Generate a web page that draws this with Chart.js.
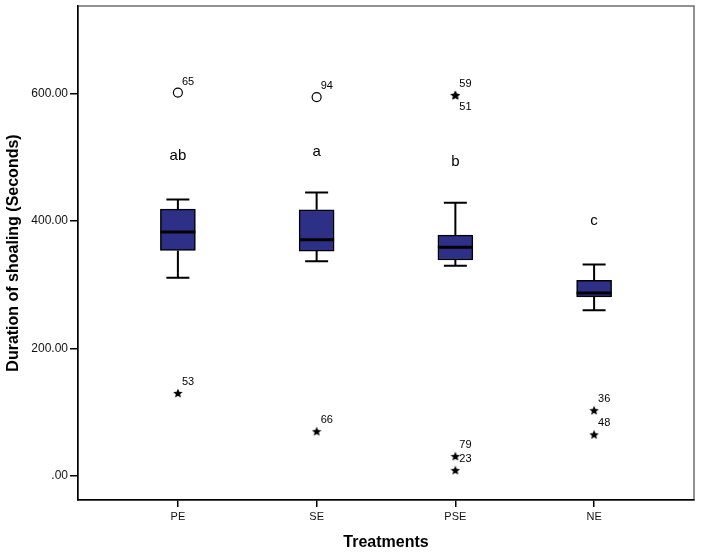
<!DOCTYPE html>
<html>
<head>
<meta charset="utf-8">
<script src="https://cdn.jsdelivr.net/npm/chart.js@4.4.1/dist/chart.umd.min.js"></script>
<style>
    html, body { margin: 0; padding: 0; background: #fff; }
    #wrap { width: 702px; height: 555px; }
</style>
</head>
<body>
<div id="wrap"><canvas id="boxChart"></canvas></div>
<script>
// Data
const categories = ['PE', 'SE', 'PSE', 'NE'];
const whiskerLow = [311, 337, 330, 260];
const q1 = [354, 353, 339, 281];
const median = [383, 371, 359, 287];
const q3 = [419, 418, 378, 307];
const whiskerHigh = [434, 445, 429, 332];
const sigLetters = ['ab', 'a', 'b', 'c'];
const sigLevel = [503, 509, 493, 400];

// outliers: group index, value, case id, marker
const outGroup = [0, 0, 1, 1, 2, 2, 2, 2, 3, 3];
const outValue = [602, 130, 595, 70, 598, 598, 31, 9, 103, 65];
const outId = ['65', '53', '94', '66', '59', '51', '79', '23', '36', '48'];
const outMark = ['circle', 'star', 'circle', 'star', 'star', 'star', 'star', 'star', 'star', 'star'];

const yTicks = [0, 200, 400, 600];

const boxColor = '#2d3086';
const fontFamily = '"Liberation Sans", Arial, sans-serif';

// small filled star used as point style
function makeStar(size) {
    const c = document.createElement('canvas');
    c.width = size;
    c.height = size;
    const g = c.getContext('2d');
    const r = size / 2, ri = r * 0.45;
    g.beginPath();
    for (let k = 0; k < 10; k++) {
        const rr = k % 2 === 0 ? r : ri;
        const a = -Math.PI / 2 + k * Math.PI / 5;
        const px = r + rr * Math.cos(a), py = r + 0.5 + rr * Math.sin(a);
        if (k === 0) g.moveTo(px, py); else g.lineTo(px, py);
    }
    g.closePath();
    g.fillStyle = '#000';
    g.fill();
    return c;
}
const starImg = makeStar(10);

const circlePts = [], starPts = [];
outValue.forEach((v, i) => {
    const p = { x: outGroup[i] + 1, y: v };
    if (outMark[i] === 'circle') circlePts.push(p); else starPts.push(p);
});

// frame, whiskers, medians and text labels
const boxParts = {
    id: 'boxParts',
    beforeDraw(chart) {
        const { ctx, chartArea: a } = chart;
        ctx.save();
        ctx.strokeStyle = '#6e6e6e';
        ctx.lineWidth = 1.5;
        ctx.strokeRect(a.left, a.top, a.right - a.left, a.bottom - a.top);
        ctx.restore();
    },
    afterDatasetsDraw(chart) {
        const { ctx } = chart;
        const xs = chart.scales.x, ys = chart.scales.y;
        ctx.save();
        ctx.strokeStyle = '#000';
        categories.forEach((c, i) => {
            const cx = xs.getPixelForValue(i + 1);
            const half = 17.5, cap = 11.5;
            // whiskers
            ctx.lineWidth = 2;
            ctx.beginPath();
            ctx.moveTo(cx, ys.getPixelForValue(q3[i]));
            ctx.lineTo(cx, ys.getPixelForValue(whiskerHigh[i]));
            ctx.moveTo(cx - cap, ys.getPixelForValue(whiskerHigh[i]));
            ctx.lineTo(cx + cap, ys.getPixelForValue(whiskerHigh[i]));
            ctx.moveTo(cx, ys.getPixelForValue(q1[i]));
            ctx.lineTo(cx, ys.getPixelForValue(whiskerLow[i]));
            ctx.moveTo(cx - cap, ys.getPixelForValue(whiskerLow[i]));
            ctx.lineTo(cx + cap, ys.getPixelForValue(whiskerLow[i]));
            ctx.stroke();
            // median
            ctx.lineWidth = 3;
            ctx.beginPath();
            ctx.moveTo(cx - half, ys.getPixelForValue(median[i]));
            ctx.lineTo(cx + half, ys.getPixelForValue(median[i]));
            ctx.stroke();
            // significance letters
            ctx.fillStyle = '#000';
            ctx.font = '15px ' + fontFamily;
            ctx.textAlign = 'center';
            ctx.textBaseline = 'middle';
            ctx.fillText(sigLetters[i], cx, ys.getPixelForValue(sigLevel[i]));
        });
        // outlier case numbers
        ctx.font = '11px ' + fontFamily;
        ctx.textAlign = 'left';
        ctx.textBaseline = 'middle';
        const used = [];
        outValue.forEach((v, i) => {
            const key = outGroup[i] + ':' + v;
            const below = used.includes(key);
            used.push(key);
            const px = xs.getPixelForValue(outGroup[i] + 1);
            const py = ys.getPixelForValue(v);
            ctx.fillText(outId[i], px + 4, py + (below ? 11.5 : -11));
        });
        ctx.restore();
    }
};

const ctx = document.getElementById('boxChart');
new Chart(ctx, {
    type: 'bar',
    data: {
        datasets: [
            {
                type: 'bar',
                data: categories.map((c, i) => ({ x: i + 1, y: [q1[i], q3[i]] })),
                backgroundColor: boxColor,
                borderColor: '#000',
                borderWidth: 1.5,
                borderSkipped: false,
                barThickness: 35
            },
            {
                type: 'scatter',
                data: circlePts,
                pointStyle: 'circle',
                pointRadius: 4.5,
                pointBackgroundColor: '#fff',
                pointBorderColor: '#000',
                pointBorderWidth: 1.2
            },
            {
                type: 'scatter',
                data: starPts,
                pointStyle: starImg,
                pointRadius: 5
            }
        ]
    },
    options: {
        responsive: true,
        maintainAspectRatio: false,
        animation: false,
        layout: { padding: { top: -3, right: 8, left: 0, bottom: 0 } },
        plugins: {
            legend: { display: false },
            tooltip: { enabled: false }
        },
        scales: {
            x: {
                type: 'linear',
                min: 0.28,
                max: 4.72,
                offset: false,
                afterBuildTicks: (scale) => {
                    scale.ticks = categories.map((c, i) => ({ value: i + 1 }));
                },
                afterFit: (scale) => {
                    scale.height = 55;
                    scale.paddingLeft = 0;
                    scale.paddingRight = 0;
                },
                ticks: {
                    callback: (v) => categories[v - 1],
                    color: '#111',
                    font: { family: fontFamily, size: 11 },
                    padding: 3,
                    maxRotation: 0,
                    autoSkip: false
                },
                grid: { offset: false, drawOnChartArea: false, drawTicks: true, tickLength: 7, color: '#000', lineWidth: 1.5 },
                border: { display: true, color: '#000', width: 1.5 },
                title: {
                    display: true,
                    text: 'Treatments',
                    color: '#000',
                    font: { family: fontFamily, size: 16, weight: 'bold' },
                    padding: { top: 0, bottom: 3 }
                }
            },
            y: {
                type: 'linear',
                min: -38,
                max: 738,
                afterBuildTicks: (scale) => {
                    scale.ticks = yTicks.map(v => ({ value: v }));
                },
                afterFit: (scale) => {
                    scale.width = 78;
                    scale.paddingTop = 0;
                    scale.paddingBottom = 0;
                },
                ticks: {
                    callback: (v) => v === 0 ? '.00' : v.toFixed(2),
                    color: '#111',
                    font: { family: fontFamily, size: 12 },
                    padding: 2
                },
                grid: { drawOnChartArea: false, drawTicks: true, tickLength: 8, color: '#000', lineWidth: 1.5 },
                border: { display: true, color: '#000', width: 1.5 },
                title: {
                    display: true,
                    text: 'Duration of shoaling (Seconds)',
                    color: '#000',
                    font: { family: fontFamily, size: 16, weight: 'bold' },
                    padding: { top: 4, bottom: 0 }
                }
            }
        }
    },
    plugins: [boxParts]
});
</script>
</body>
</html>
